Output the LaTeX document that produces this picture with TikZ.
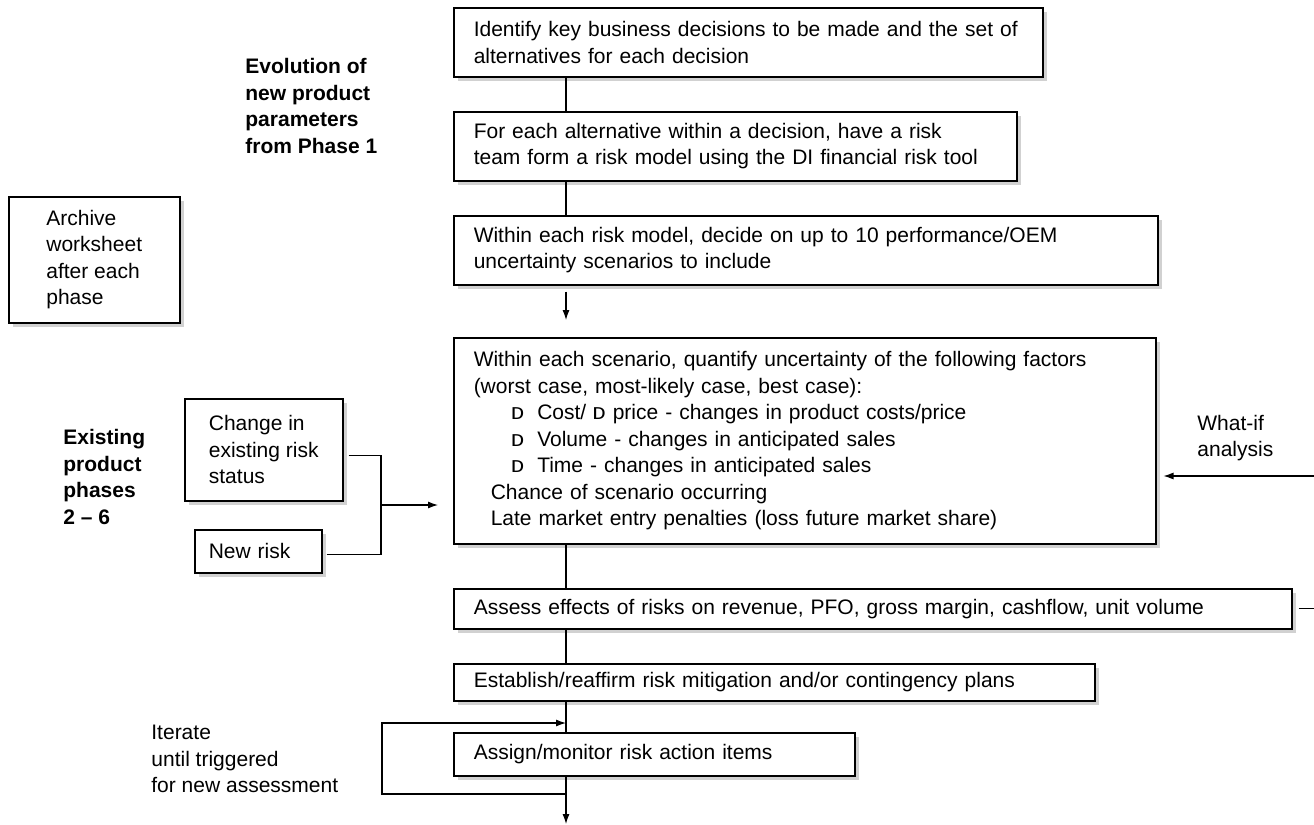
\documentclass[tikz,border=0pt]{standalone}
\usepackage{fontspec}
\setmainfont{Liberation Sans}
\newfontfamily\dfont{Liberation Mono}
\usepackage{tikz}
\usetikzlibrary{arrows.meta,positioning,shadows}
\newcommand{\dsym}{\scalebox{1.25}[1]{\dfont\fontsize{9}{10}\selectfont D}}

\begin{document}
\begin{tikzpicture}[
 x=0.5pt, y=-0.5pt,
 every node/.style={font=\fontsize{10.5}{13.25}\selectfont},
 stepbox/.style={draw,line width=0.75pt,fill=white,anchor=north west,align=left,inner xsep=10pt,inner ysep=0pt,
   drop shadow={shadow xshift=2pt,shadow yshift=-2pt,fill=black!18,opacity=1}},
 sidebox/.style={stepbox,inner xsep=0pt},
 lbl/.style={anchor=west,align=left,inner sep=0pt},
 head/.style={lbl,font=\fontsize{10.5}{13.25}\selectfont\bfseries},
 line/.style={line width=0.55pt},
 arr/.style={line,-{Latex[length=5pt,width=3.5pt]}}
]
\useasboundingbox (0,0) rectangle (1314,825);
\coordinate (spine) at (566,0);
\coordinate (exit) at (566,824);
\coordinate (loopout) at (566,794);
\coordinate (loopin) at (566,723);
\coordinate (merge) at (381,505);
\coordinate (whatin) at (1314,476);

% main column
\node[stepbox,text width=274.5pt,minimum height=34.5pt] (identify) at (453,7)
  {Identify key business decisions to be made and the set of\\alternatives for each decision};
\node[stepbox,text width=261.5pt,minimum height=34.5pt] (model) at (453,111)
  {For each alternative within a decision, have a risk\\team form a risk model using the DI financial risk tool};
\node[stepbox,text width=332pt,minimum height=34.5pt] (scen) at (453,215)
  {Within each risk model, decide on up to 10 performance/OEM\\uncertainty scenarios to include};
\node[stepbox,text width=331pt,minimum height=103pt] (quant) at (453,337)
  {Within each scenario, quantify uncertainty of the following factors\\
   (worst case, most-likely case, best case):\\
   \hspace*{18.5pt}\dsym\hspace{6.5pt}Cost/\hspace{3pt}\dsym\hspace{3.5pt}price - changes in product costs/price\\
   \hspace*{18.5pt}\dsym\hspace{6.5pt}Volume - changes in anticipated sales\\
   \hspace*{18.5pt}\dsym\hspace{6.5pt}Time - changes in anticipated sales\\
   \hspace*{8.5pt}Chance of scenario occurring\\
   \hspace*{8.5pt}Late market entry penalties (loss future market share)};
\node[stepbox,text width=399pt,minimum height=20pt] (assess) at (453,588)
  {Assess effects of risks on revenue, PFO, gross margin, cashflow, unit volume};
\node[stepbox,text width=300.5pt,minimum height=18.5pt] (plans) at (453,663)
  {Establish/reaffirm risk mitigation and/or contingency plans};
\node[stepbox,text width=180.5pt,minimum height=21.5pt] (assign) at (453,732)
  {Assign/monitor risk action items};

% side boxes
\node[sidebox,minimum width=85.5pt,minimum height=63pt] (archive) at (8,196)
  {Archive\\worksheet\\after each\\phase};
\node[sidebox,minimum width=79pt,minimum height=51pt] (change) at (184,398)
  {Change in\\existing risk\\status};
\node[stepbox,inner xsep=7pt,text width=49.5pt,minimum height=21.5pt] (newrisk) at (194,529)
  {New risk};

% labels
\node[head] (evol) at (245,106) {Evolution of\\new product\\parameters\\from Phase 1};
\node[head] (exist) at (63,477) {Existing\\product\\phases\\2 -- 6};
\node[lbl] (whatif) at (1197,438) {What-if\\analysis};
\node[lbl] (iter) at (151,759) {Iterate\\until triggered\\for new assessment};

% connectors
\draw[line] (identify.south -| spine) -- (model.north -| spine);
\draw[line] (model.south -| spine) -- (scen.north -| spine);
\draw[arr,shorten <=3pt,shorten >=8.5pt] (scen.south -| spine) -- (quant.north -| spine);
\draw[line] (quant.south -| spine) -- (assess.north -| spine);
\draw[line] (assess.south -| spine) -- (plans.north -| spine);
\draw[line] (plans.south -| spine) -- (assign.north -| spine);
\draw[arr] (assign.south -| spine) -- (exit);
\draw[arr] (loopout) -- ++(-184,0) |- (loopin);
\draw[line] ([xshift=2.5pt,yshift=-3pt]change.east) -| (merge);
\draw[line] ([xshift=2pt,yshift=-1.5pt]newrisk.east) -| (merge);
\draw[arr,shorten >=7.5pt] (merge) -- (merge -| quant.west);
\draw[arr,shorten >=3.5pt] (whatin) -- (whatin -| quant.east);
\draw[line] ([xshift=3pt]assess.east) -- (assess.east -| whatin);
\end{tikzpicture}
\end{document}
